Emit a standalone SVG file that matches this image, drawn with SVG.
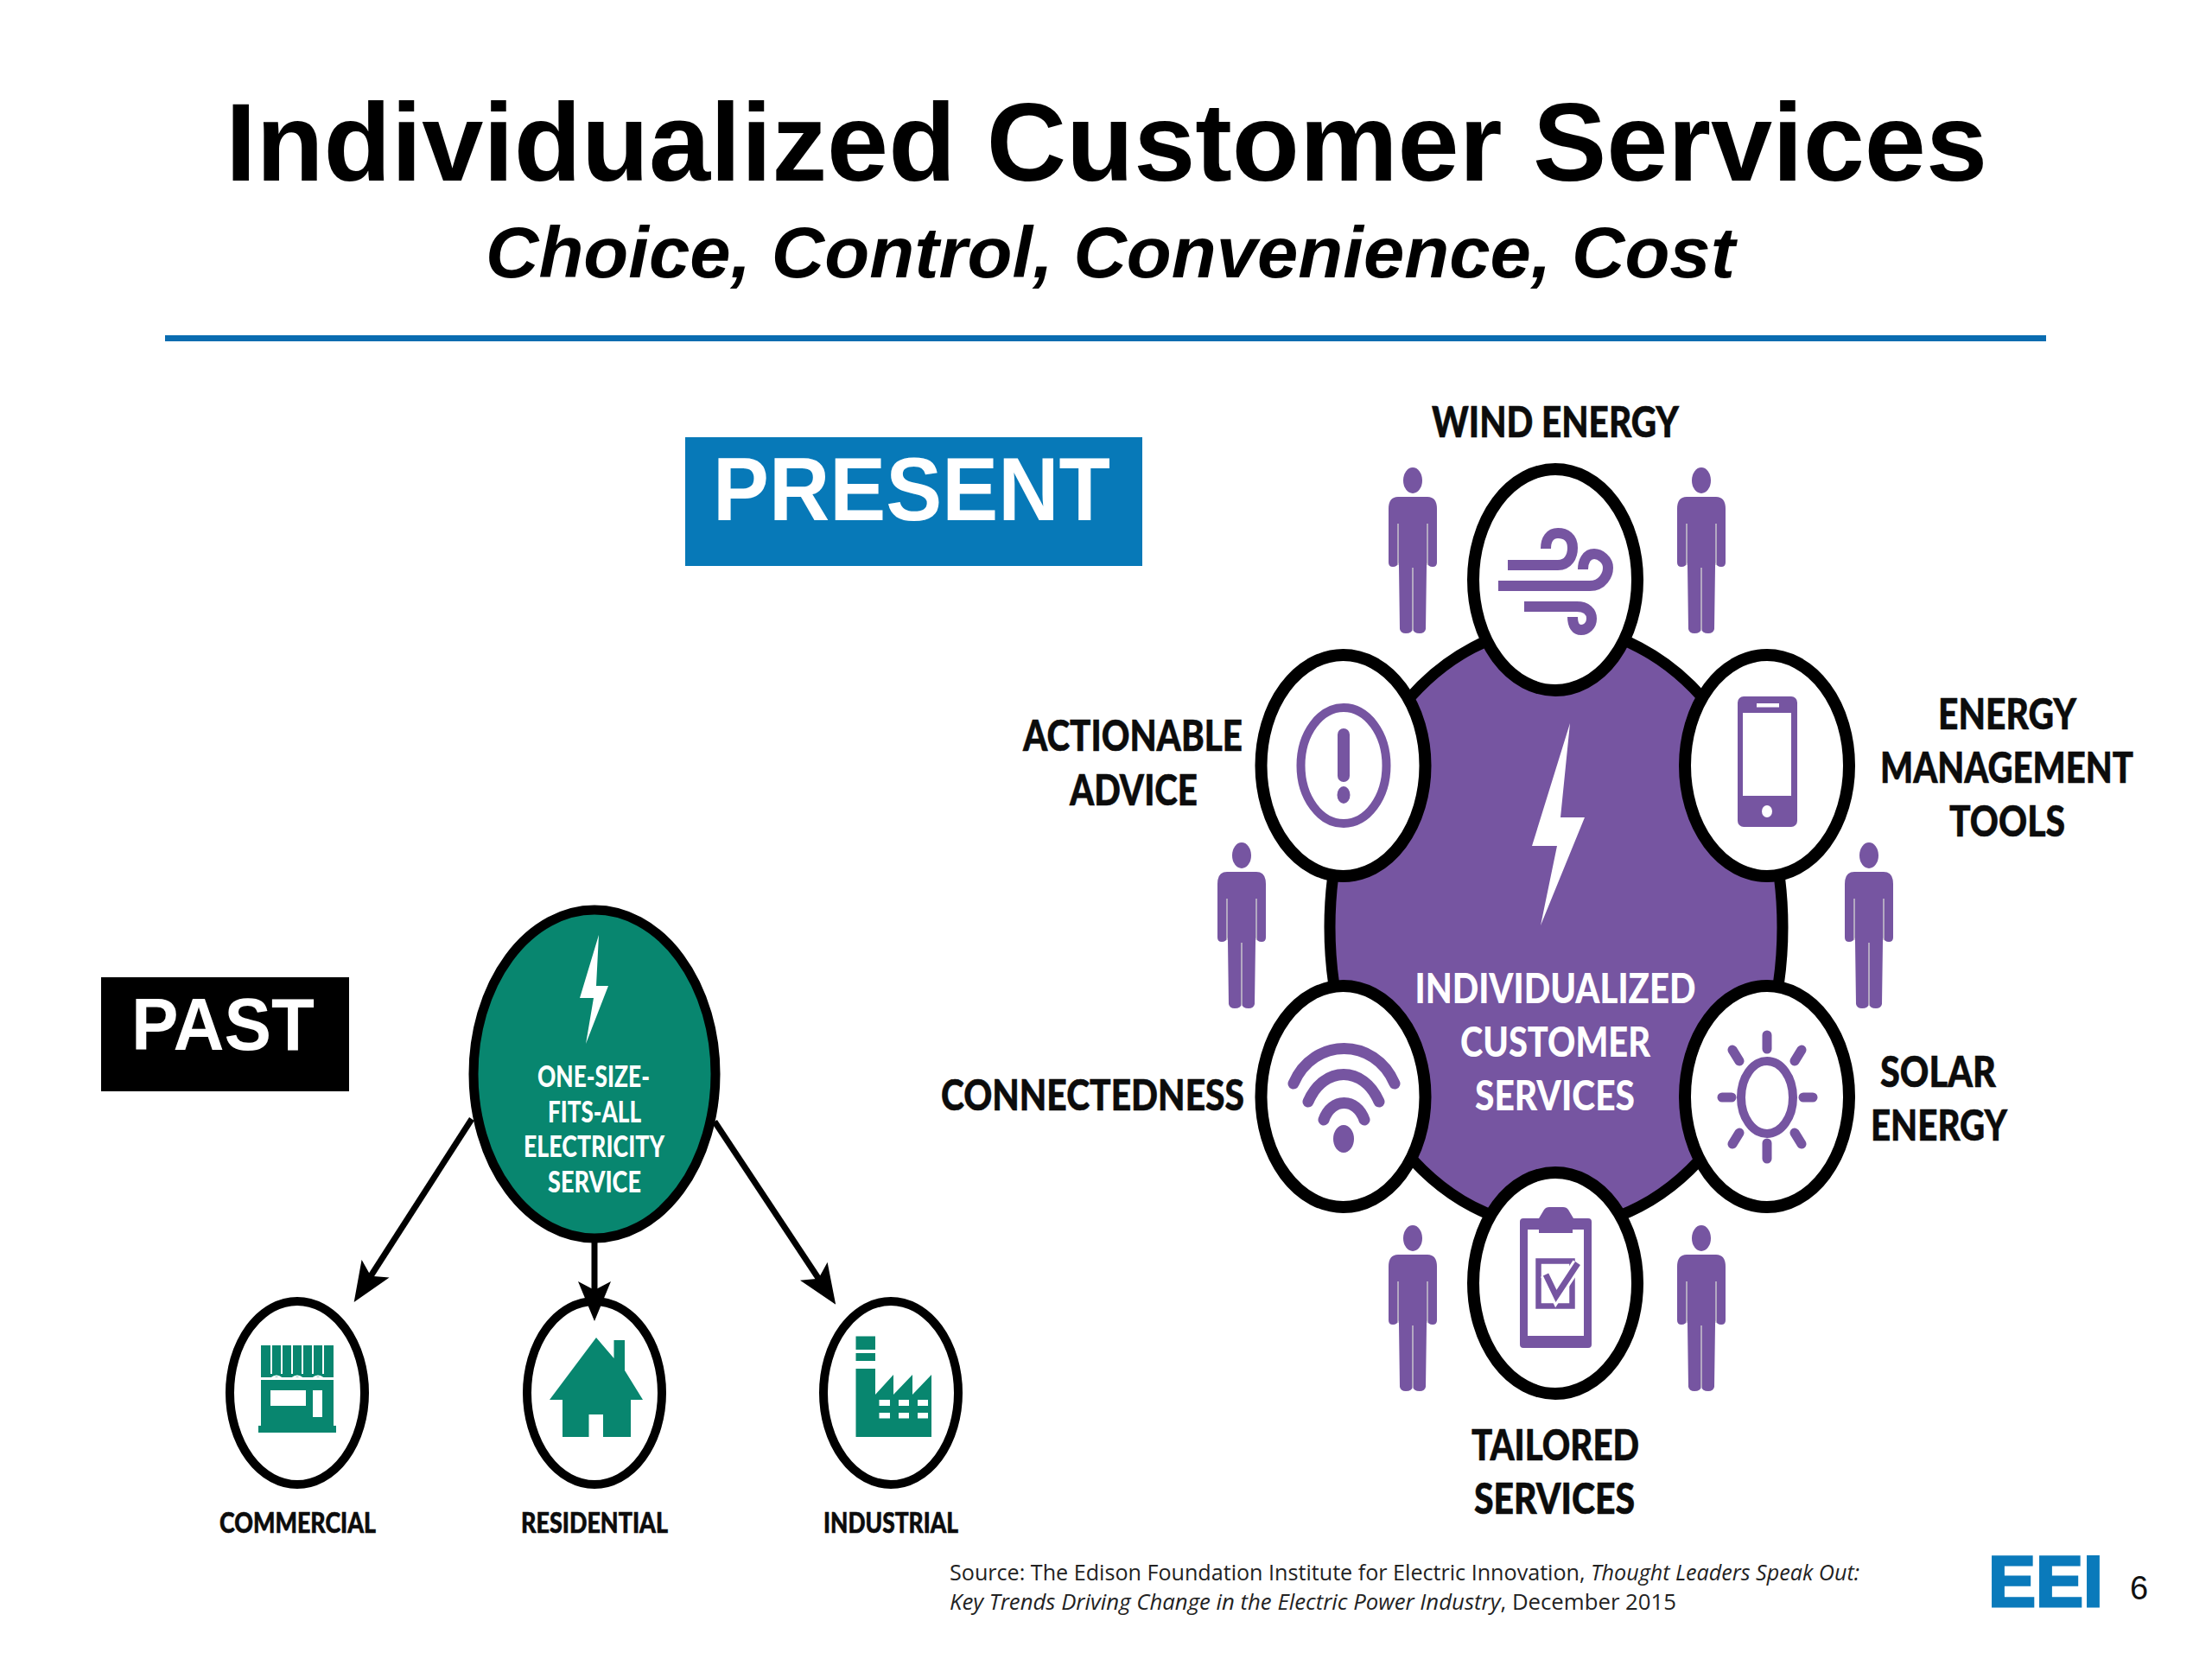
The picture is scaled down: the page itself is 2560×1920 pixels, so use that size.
<svg xmlns="http://www.w3.org/2000/svg" width="2560" height="1920" viewBox="0 0 2560 1920">
<style>
.h{font-family:"Liberation Sans",Arial,sans-serif;font-weight:700}
.l{font-family:Lato,"Open Sans",sans-serif;font-weight:900;fill:#0c0c0c;stroke:#0c0c0c;stroke-width:.6px}
.lw{font-family:Lato,"Open Sans",sans-serif;font-weight:900;fill:#fff}
.w{fill:#fff}
.g{fill:#08866f}
.p{fill:#7655a1}
.ps{fill:none;stroke:#7655a1;stroke-linecap:round}
.ring{fill:#fff;stroke:#000;stroke-width:14}
.ring2{fill:#fff;stroke:#000;stroke-width:10}
.src{font-family:"Open Sans",sans-serif;font-size:26px;fill:#222}
</style>
<defs>
<marker id="ah" markerUnits="userSpaceOnUse" viewBox="0 0 46 38" refX="14" refY="19" markerWidth="46" markerHeight="38" orient="auto"><path d="M46 19L0 0L10 19L0 38Z" fill="#000"/></marker>
<g id="person">
<ellipse cx="0" cy="15" rx="11" ry="15" class="p"/>
<path class="p" d="M-17 34H17Q28 34 28 48V110Q28 115 23 115Q18 115 16 110V115L15 187Q14 192 8 192Q1 192 0 187Q-1 192 -8 192Q-14 192 -15 187L-16 115V110Q-18 115 -23 115Q-28 115 -28 110V48Q-28 34 -17 34Z"/>
<path d="M-17 65V113M17 65V113M0 116V188" stroke="#c8c3cc" stroke-width="1.500" fill="none"/>
</g>
</defs>
<rect width="2560" height="1920" fill="#fff"/>

<g id="title">
<text class="h" x="261" y="209" font-size="128" textLength="2039" lengthAdjust="spacingAndGlyphs" fill="#000">Individualized Customer Services</text>
<text class="h" x="562" y="321" font-size="84" font-style="italic" textLength="1446" lengthAdjust="spacingAndGlyphs" fill="#000">Choice, Control, Convenience, Cost</text>
<rect x="191" y="388" width="2177" height="7" fill="#0a6cb0"/>
</g>

<g id="present-badge">
<rect x="793" y="506" width="529" height="149" fill="#0779b8"/>
<text class="h w" x="825" y="602" font-size="103" textLength="460" lengthAdjust="spacingAndGlyphs">PRESENT</text>
</g>
<g id="past-badge">
<rect x="117" y="1131" width="287" height="132" fill="#000"/>
<text class="h w" x="152" y="1215" font-size="85" textLength="212" lengthAdjust="spacingAndGlyphs">PAST</text>
</g>

<g id="past-hub">
<ellipse cx="688" cy="1243" rx="140" ry="190" fill="#08866f" stroke="#000" stroke-width="11"/>
<polygon class="w" points="693,1082 671,1155 687,1155 678,1208 704,1141 690,1141"/>
<text class="lw" x="622" y="1258" font-size="35" textLength="130" lengthAdjust="spacingAndGlyphs">ONE-SIZE-</text>
<text class="lw" x="634" y="1299" font-size="35" textLength="108" lengthAdjust="spacingAndGlyphs">FITS-ALL</text>
<text class="lw" x="606" y="1339" font-size="35" textLength="163" lengthAdjust="spacingAndGlyphs">ELECTRICITY</text>
<text class="lw" x="634" y="1380" font-size="35" textLength="108" lengthAdjust="spacingAndGlyphs">SERVICE</text>
</g>

<g id="commercial">
<ellipse class="ring2" cx="344" cy="1612" rx="78" ry="106"/>
<rect class="g" x="302" y="1557" width="84" height="37"/>
<path d="M314 1557V1590M326 1557V1590M338 1557V1590M350 1557V1590M362 1557V1590M374 1557V1590" stroke="#fff" stroke-width="2"/>
<path d="M302 1595q6 5 12 0t12 0t12 0t12 0t12 0t12 0t12 0" stroke="#fff" stroke-width="2" fill="none"/>
<rect class="g" x="302" y="1597" width="84" height="53"/>
<rect class="g" x="299" y="1650" width="90" height="8"/>
<rect class="w" x="313" y="1609" width="41" height="18"/>
<rect class="w" x="362" y="1609" width="11" height="31"/>
<text class="l" x="254" y="1774" font-size="33" textLength="181" lengthAdjust="spacingAndGlyphs">COMMERCIAL</text>
</g>
<g id="residential">
<ellipse class="ring2" cx="688" cy="1612" rx="78" ry="106"/>
<path class="g" d="M710.500 1551H723V1586L744 1620H730V1663H698V1637H681.500V1663H651V1620H636L690 1548L710.500 1572Z"/>
<text class="l" x="603" y="1774" font-size="33" textLength="170" lengthAdjust="spacingAndGlyphs">RESIDENTIAL</text>
</g>
<g id="industrial">
<ellipse class="ring2" cx="1031" cy="1612" rx="78" ry="106"/>
<rect class="g" x="990.500" y="1546.500" width="22.500" height="15.500"/>
<rect class="g" x="990.500" y="1566" width="22.500" height="9"/>
<path class="g" d="M990.500 1584H1013V1614L1034 1591V1614L1056 1591V1614L1078 1591V1663H990.500Z"/>
<path class="w" d="M1017.500 1620h12.500v7h-12.500zM1040 1620h12v7h-12zM1062 1620h12v7h-12zM1017.500 1635h12.500v6.500h-12.500zM1040 1635h12v6.500h-12zM1062 1635h12v6.500h-12z"/>
<text class="l" x="953" y="1774" font-size="33" textLength="156" lengthAdjust="spacingAndGlyphs">INDUSTRIAL</text>
</g>

<g id="connectors" stroke="#000" stroke-width="7" fill="none">
<line x1="546" y1="1295" x2="427" y2="1480" marker-end="url(#ah)"/>
<line x1="688" y1="1436" x2="688" y2="1497" marker-end="url(#ah)"/>
<line x1="827" y1="1298" x2="949.500" y2="1483" marker-end="url(#ah)"/>
</g>

<g id="hub">
<ellipse cx="1801" cy="1073" rx="262" ry="348" fill="#7655a1" stroke="#000" stroke-width="13"/>
<polygon class="w" points="1817,837 1773,979 1802,979 1783,1071 1834,946 1806,946"/>
<text class="lw" x="1637.500" y="1161" font-size="48" textLength="325" lengthAdjust="spacingAndGlyphs">INDIVIDUALIZED</text>
<text class="lw" x="1690" y="1223" font-size="48" textLength="220" lengthAdjust="spacingAndGlyphs">CUSTOMER</text>
<text class="lw" x="1707" y="1285" font-size="48" textLength="185" lengthAdjust="spacingAndGlyphs">SERVICES</text>
</g>

<g id="people">
<use href="#person" x="1635" y="541"/>
<use href="#person" x="1969" y="541"/>
<use href="#person" x="1437" y="975"/>
<use href="#person" x="2163" y="975"/>
<use href="#person" x="1635" y="1418"/>
<use href="#person" x="1969" y="1418"/>
</g>

<g id="wind-energy">
<ellipse class="ring" cx="1800" cy="671" rx="95" ry="128"/>
<path class="ps" style="stroke-linecap:butt" stroke-width="12" d="M1745 654H1803C1815 654 1820 644 1820 634C1820 622 1812 617 1803 617C1794 617 1789 624 1789 635"/>
<path class="ps" style="stroke-linecap:butt" stroke-width="12" d="M1734 678H1840C1855 678 1861 665 1861 657C1861 648 1852 641 1845 641C1836 641 1832 650 1832 659"/>
<path class="ps" style="stroke-linecap:butt" stroke-width="12" d="M1764 702H1825C1836 702 1842 708 1842 716C1842 724 1836 729 1830 729C1824 729 1820 724 1820 714"/>
<text class="l" x="1657" y="506" font-size="50" textLength="286" lengthAdjust="spacingAndGlyphs">WIND ENERGY</text>
</g>

<g id="actionable-advice">
<ellipse class="ring" cx="1554.500" cy="886" rx="95" ry="128"/>
<ellipse class="ps" cx="1555" cy="886" rx="49.500" ry="67" stroke-width="10"/>
<rect class="p" x="1548" y="843" width="14" height="62" rx="7"/>
<ellipse class="p" cx="1555" cy="920" rx="7.500" ry="10"/>
<text class="l" x="1184" y="869" font-size="50" textLength="254" lengthAdjust="spacingAndGlyphs">ACTIONABLE</text>
<text class="l" x="1238" y="932" font-size="50" textLength="148" lengthAdjust="spacingAndGlyphs">ADVICE</text>
</g>

<g id="energy-management-tools">
<ellipse class="ring" cx="2045" cy="886" rx="95" ry="128"/>
<rect class="p" x="2011" y="806" width="69" height="151" rx="7"/>
<rect class="w" x="2017" y="825" width="56" height="96"/>
<rect class="w" x="2033" y="814" width="26" height="4.500"/>
<ellipse class="w" cx="2045" cy="939" rx="6" ry="7"/>
<text class="l" x="2243" y="844" font-size="50" textLength="160" lengthAdjust="spacingAndGlyphs">ENERGY</text>
<text class="l" x="2176" y="906" font-size="50" textLength="293" lengthAdjust="spacingAndGlyphs">MANAGEMENT</text>
<text class="l" x="2256" y="968" font-size="50" textLength="134" lengthAdjust="spacingAndGlyphs">TOOLS</text>
</g>

<g id="connectedness">
<ellipse class="ring" cx="1554.500" cy="1269" rx="95" ry="128"/>
<path class="ps" stroke-width="13" d="M1497 1254C1520 1200 1591 1200 1614 1254"/>
<path class="ps" stroke-width="13" d="M1514 1275C1532 1233 1578 1233 1596 1275"/>
<path class="ps" stroke-width="13" d="M1532 1296C1541 1270 1570 1270 1579 1296"/>
<ellipse class="p" cx="1555" cy="1318" rx="12" ry="16"/>
<text class="l" x="1089" y="1285" font-size="50" textLength="351" lengthAdjust="spacingAndGlyphs">CONNECTEDNESS</text>
</g>

<g id="solar-energy">
<ellipse class="ring" cx="2045" cy="1269" rx="95" ry="128"/>
<ellipse class="ps" cx="2045" cy="1270" rx="30" ry="42" stroke-width="10"/>
<path class="ps" stroke-width="11" d="M2045 1198V1214M2045 1323V1341M1993 1270H2004M2087 1270H2098M2005 1215L2013 1228M2085 1215L2077 1228M2013 1311L2005 1324M2077 1311L2085 1324"/>
<text class="l" x="2176" y="1258" font-size="50" textLength="134" lengthAdjust="spacingAndGlyphs">SOLAR</text>
<text class="l" x="2165" y="1320" font-size="50" textLength="158" lengthAdjust="spacingAndGlyphs">ENERGY</text>
</g>

<g id="tailored-services">
<ellipse class="ring" cx="1800" cy="1485" rx="95" ry="128"/>
<path class="p" d="M1763 1410H1781L1787 1400Q1789 1397 1793 1397H1809Q1813 1397 1815 1400L1821 1410H1838Q1842 1410 1842 1414V1556Q1842 1560 1838 1560H1763Q1759 1560 1759 1556V1414Q1759 1410 1763 1410Z"/>
<path class="w" d="M1768 1423H1781V1427H1820V1423H1833V1546H1768Z"/>
<rect x="1780.500" y="1459.500" width="39" height="52" fill="none" stroke="#7655a1" stroke-width="6.500"/>
<path d="M1789 1475L1801 1500L1826 1462" fill="none" stroke="#fff" stroke-width="13"/>
<path d="M1789 1475L1801 1500L1826 1462" fill="none" stroke="#7655a1" stroke-width="7"/>
<text class="l" x="1703" y="1690" font-size="50" textLength="194" lengthAdjust="spacingAndGlyphs">TAILORED</text>
<text class="l" x="1706" y="1752" font-size="50" textLength="186" lengthAdjust="spacingAndGlyphs">SERVICES</text>
</g>

<g id="footer">
<text class="src" x="1099" y="1829" textLength="1053" lengthAdjust="spacingAndGlyphs">Source: The Edison Foundation Institute for Electric Innovation, <tspan font-style="italic">Thought Leaders Speak Out:</tspan></text>
<text class="src" x="1099" y="1863" textLength="841" lengthAdjust="spacingAndGlyphs"><tspan font-style="italic">Key Trends Driving Change in the Electric Power Industry</tspan>, December 2015</text>
<text class="h" x="2301" y="1859" font-size="84" textLength="133" lengthAdjust="spacingAndGlyphs" fill="#0a7abb" stroke="#0a7abb" stroke-width="3">EEI</text>
<text x="2465" y="1851" font-family="Liberation Sans, sans-serif" font-size="38" fill="#111">6</text>
</g>
</svg>
